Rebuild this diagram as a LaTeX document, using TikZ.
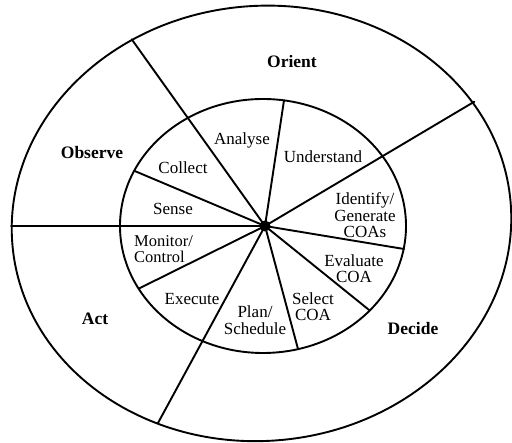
\documentclass[tikz,border=0pt]{standalone}
\usepackage{fontspec}
\setmainfont{Liberation Serif}
\begin{document}
\begin{tikzpicture}[x=1pt,y=1pt,
  ln/.style={line width=1.9pt, line cap=round},
  lab/.style={font=\fontsize{17}{16.5}\selectfont, align=center, inner sep=0pt},
  labl/.style={font=\fontsize{16.5}{16}\selectfont, align=left, inner sep=0pt, anchor=west},
  big/.style={font=\fontsize{17.5}{17}\selectfont\bfseries, inner sep=0pt}]
\useasboundingbox (0,0) rectangle (512,443);
% rings
\draw[ln, rotate around={5:(261.5,219.6)}] (261.5,219.6) ellipse [x radius=250, y radius=217.5];
\draw[ln] (263,217) ellipse [x radius=143, y radius=127];
% hub
\node[circle, fill=black, inner sep=0pt, minimum size=11pt] (c) at (265,217) {};
% outer spoke ends
\coordinate (ul) at (131.7,403.7);
\coordinate (ur) at (474.3,341.3);
\coordinate (lf) at (11,217);
\coordinate (ll) at (158,20);
% inner spoke ends
\coordinate (s1) at (134.2,272.2);
\coordinate (s2) at (284,342.6);
\coordinate (s3) at (404,194);
\coordinate (s4) at (369.7,132.5);
\coordinate (s5) at (298,94);
\coordinate (s6) at (138.6,154.3);
\foreach \e in {ul,ur,lf,ll,s1,s2,s3,s4,s5,s6}
  \draw[ln] (c.center) -- (\e);
% phase labels
\node[big] (orient)  at (292,381) {Orient};
\node[big] (observe) at (92,290)  {Observe};
\node[big] (act)     at (95,124)  {Act};
\node[big] (decide)  at (413,114) {Decide};
% activity labels
\node[lab] (collect) at (183,275) {Collect};
\node[lab] (sense)   at (173,234) {Sense};
\node[lab] (analyse) at (242,303) {Analyse};
\node[lab] (underst) at (323,286) {Understand};
\node[lab] (ident)   at (365,227.5) {Identify/\\Generate\\COAs};
\node[lab] (evalc)   at (354,174.5) {Evaluate\\COA};
\node[lab] (selc)    at (313,136.5) {Select\\COA};
\node[lab] (plan)    at (255,123) {Plan/\\Schedule};
\node[lab] (exec)    at (192,144) {Execute};
\node[labl] (monit)  at (134,194) {Monitor/\\Control};
\end{tikzpicture}
\end{document}
